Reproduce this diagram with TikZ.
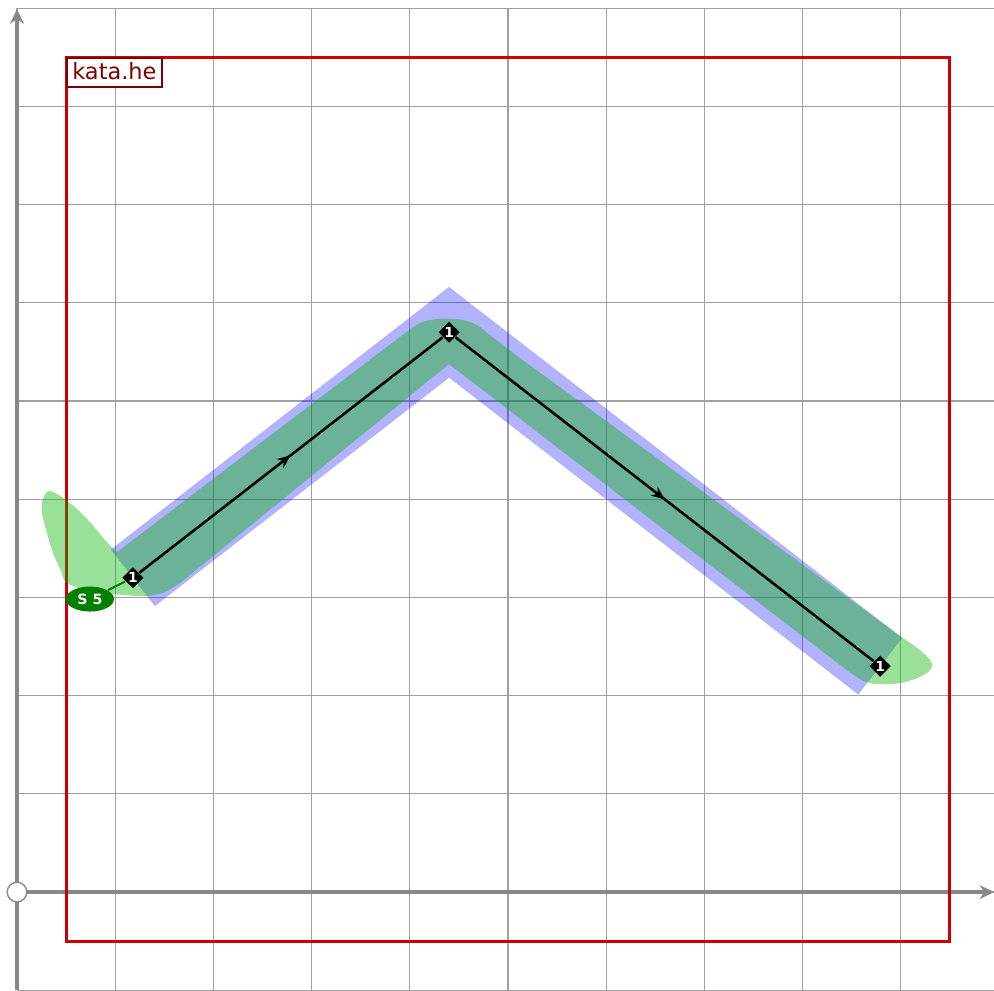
\documentclass[tikz,border=0pt]{standalone}
\usepackage{fontspec}
\newfontfamily\dejavu{DejaVu Sans}
\usetikzlibrary{arrows.meta,shapes.geometric,decorations.markings}
\definecolor{gridgray}{RGB}{160,160,160}
\definecolor{axisgray}{RGB}{136,136,136}
\definecolor{framered}{RGB}{208,0,0}
\definecolor{labelred}{RGB}{128,0,0}
\definecolor{bandgreen}{RGB}{0,179,0}
\definecolor{darkgreen}{RGB}{0,128,0}
\tikzset{
  gridline/.style={draw=gridgray,line width=0.35pt},
  axisline/.style={draw=axisgray,line width=1.2pt,-{Stealth[length=4.2pt,width=4pt]}},
  redframe/.style={draw=framered,line width=0.9pt},
  labelbox/.style={draw=labelred,fill=white,line width=0.45pt,text=labelred,
    font=\dejavu\fontsize{6.5}{7}\selectfont,inner xsep=1.6pt,inner ysep=1.4pt,
    text height=4.9pt,text depth=0.6pt,anchor=north west},
  blueband/.style={draw=blue,draw opacity=0.3,line width=0.73cm,line join=miter,line cap=butt},
  greenband/.style={fill=bandgreen,fill opacity=0.4},
  pathline/.style={draw=black,line width=0.75pt},
  midarrow/.style={postaction={decorate},decoration={markings,
    mark=at position 0.5 with {\arrow{Stealth[length=3.8pt,width=3.2pt]}}}},
  vertex/.style={diamond,fill=black,inner sep=0pt,minimum width=0.22cm,minimum height=0.22cm,
    text=white,font=\dejavu\bfseries\fontsize{4}{4}\selectfont},
  s5node/.style={ellipse,fill=darkgreen,inner sep=0pt,minimum width=0.49cm,minimum height=0.255cm,
    text=white,font=\dejavu\bfseries\fontsize{4.1}{4.1}\selectfont},
  s5link/.style={draw=darkgreen,line width=0.6pt},
  origin/.style={circle,draw=axisgray,fill=white,line width=0.4pt,minimum size=0.2cm,inner sep=0pt}
}
\begin{document}
\begin{tikzpicture}
\useasboundingbox (-0.173,-0.998) rectangle (9.949,9.084);
% grid
\draw[gridline] (0,-1) grid (9.95,9);
% axes
\draw[axisline] (0,0) -- (9.95,0);
\draw[axisline] (0,-1) -- (0,8.99);
\node[origin] (o) at (0,0) {};
% frame
\draw[redframe] (0.5,-0.5) rectangle (9.5,8.5);
\node[labelbox] (lbl) at (0.5,8.5) {kata.he};
% path points
\coordinate (p1) at (1.18,3.2);
\coordinate (p2) at (4.40,5.70);
\coordinate (p3) at (8.79,2.30);
% blue band
\draw[blueband] (p1) -- (p2) -- (p3);
% green band
\fill[greenband]
  plot[smooth,tension=0.6] coordinates {(0.458,3.248) (0.367,3.452) (0.305,3.656) (0.255,3.859) (0.262,3.992) (0.336,4.084) (0.540,3.961) (0.743,3.768) (0.896,3.585) (1.018,3.462)}
  -- plot[smooth,tension=0.6] coordinates {(3.697,5.499) (3.900,5.652) (4.104,5.794) (4.277,5.835) (4.399,5.838) (4.542,5.825) (4.684,5.774) (4.817,5.672) (4.949,5.570) (5.122,5.438)}
  -- plot[smooth,tension=0.6] coordinates {(9.022,2.587) (9.196,2.464) (9.297,2.363) (9.318,2.301) (9.277,2.240) (9.165,2.179) (8.992,2.128) (8.819,2.118) (8.686,2.128) (8.554,2.189) (8.381,2.312)}
  -- (4.399,5.377)
  -- plot[smooth,tension=0.6] coordinates {(1.660,3.147) (1.507,3.055) (1.385,3.024) (1.253,3.014) (0.978,3.035) (0.743,3.065) (0.509,3.147) (0.458,3.248)}
  -- cycle;
% vertices
\node[vertex] (n1) at (p1) {1};
\node[vertex] (n2) at (p2) {1};
\node[vertex] (n3) at (p3) {1};
% path
\draw[pathline,midarrow] (n1) -- (n2);
\draw[pathline,midarrow] (n2) -- (n3);
% S5 label
\node[s5node] (s5) at (0.743,2.984) {S 5};
\draw[s5link] (s5) -- (n1);
\end{tikzpicture}
\end{document}
